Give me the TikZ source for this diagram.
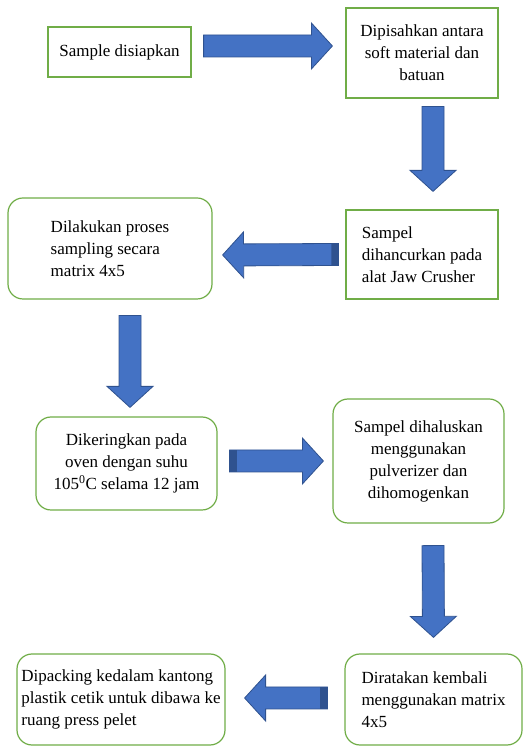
\documentclass[tikz,border=0pt]{standalone}
\usepackage{fontspec}
\setmainfont{Liberation Serif}
\usetikzlibrary{calc}

\definecolor{boxgreen}{HTML}{70AD47}
\definecolor{arrblue}{HTML}{4472C4}
\definecolor{arrdark}{HTML}{2F528F}

\begin{document}
\begin{tikzpicture}[x=1pt, y=1pt,
  sbox/.style={draw=boxgreen, line width=1.2pt, fill=white, inner sep=4pt,
               font=\fontsize{17}{22}\selectfont},
  rbox/.style={sbox, rounded corners=15pt},
  blk/.style={draw=arrdark, fill=arrblue, line width=0.8pt,
    to path={let \p1=(\tikztostart), \p2=(\tikztotarget),
      \n1={atan2(\y2-\y1,\x2-\x1)}, \n2={veclen(\x2-\x1,\y2-\y1)} in
      ($(\p1)+(\n1+90:11)$) -- ($(\p1)+(\n1:{\n2-21})+(\n1+90:11)$)
      -- ($(\p1)+(\n1:{\n2-21})+(\n1+90:23)$) -- (\p2)
      -- ($(\p1)+(\n1:{\n2-21})+(\n1-90:23)$)
      -- ($(\p1)+(\n1:{\n2-21})+(\n1-90:11)$) -- ($(\p1)+(\n1-90:11)$) -- cycle}},
  tailbar/.style={fill=arrdark,
    to path={let \p1=(\tikztostart), \p2=(\tikztotarget),
      \n1={atan2(\y2-\y1,\x2-\x1)} in
      ($(\p1)+(\n1+90:11)$) -- ($(\p1)+(\n1:7)+(\n1+90:11)$)
      -- ($(\p1)+(\n1:7)+(\n1-90:11)$) -- ($(\p1)+(\n1-90:11)$) -- cycle}}
]
  \useasboundingbox (0,0) rectangle (526,747);

  \node[sbox, minimum width=143pt, minimum height=50pt] (siap) at (119.5,695) {Sample disiapkan};
  \node[sbox, minimum width=152pt, minimum height=90pt, align=center] (pisah) at (422,694)
    {Dipisahkan antara\\soft material dan\\batuan};
  \node[sbox, minimum width=152pt, minimum height=89pt, align=left] (hancur) at (422,492.5)
    {Sampel\\dihancurkan pada\\alat Jaw Crusher};
  \node[rbox, minimum width=204pt, minimum height=101pt, align=left] (sampling) at (110,498.5)
    {Dilakukan proses\\sampling secara\\matrix 4x5};
  \node[rbox, minimum width=181pt, minimum height=93pt, align=center] (kering) at (126.5,283.5)
    {Dikeringkan pada\\oven dengan suhu\\105\textsuperscript{0}C selama 12 jam};
  \node[rbox, minimum width=171pt, minimum height=124pt, align=center] (halus) at (418.5,286)
    {Sampel dihaluskan\\menggunakan\\pulverizer dan\\dihomogenkan};
  \node[rbox, minimum width=177pt, minimum height=91pt, align=left] (ratakan) at (433.5,47.5)
    {Diratakan kembali\\menggunakan matrix\\4x5};
  \node[rbox, minimum width=208pt, minimum height=91pt, align=left] (packing) at (121,47.5)
    {Dipacking kedalam kantong\\plastik cetik untuk dibawa ke\\ruang press pelet};

  \draw[blk] ([xshift=12pt,yshift=6pt]siap.east) to ([xshift=-13pt,yshift=7pt]pisah.west);
  \draw[blk] ([xshift=11pt,yshift=-8pt]pisah.south) to ([xshift=11pt,yshift=18pt]hancur.north);
  \draw[blk] ([xshift=-7pt]hancur.west) to ([xshift=10pt,yshift=-6.5pt]sampling.east);
  \path[tailbar] ([xshift=-7pt]hancur.west) to ([xshift=10pt,yshift=-6.5pt]sampling.east);
  \draw[blk] ([xshift=20pt,yshift=-16pt]sampling.south) to ([xshift=3.5pt,yshift=9pt]kering.north);
  \draw[blk] ([xshift=12pt,yshift=2.5pt]kering.east) to ([xshift=-9pt]halus.west);
  \path[tailbar] ([xshift=12pt,yshift=2.5pt]kering.east) to ([xshift=-9pt]halus.west);
  \draw[blk] ([xshift=14.5pt,yshift=-22pt]halus.south) to ([yshift=16pt]ratakan.north);
  \draw[blk] ([xshift=-17pt,yshift=1.5pt]ratakan.west) to ([xshift=19pt,yshift=1.5pt]packing.east);
  \path[tailbar] ([xshift=-17pt,yshift=1.5pt]ratakan.west) to ([xshift=19pt,yshift=1.5pt]packing.east);
\end{tikzpicture}
\end{document}
